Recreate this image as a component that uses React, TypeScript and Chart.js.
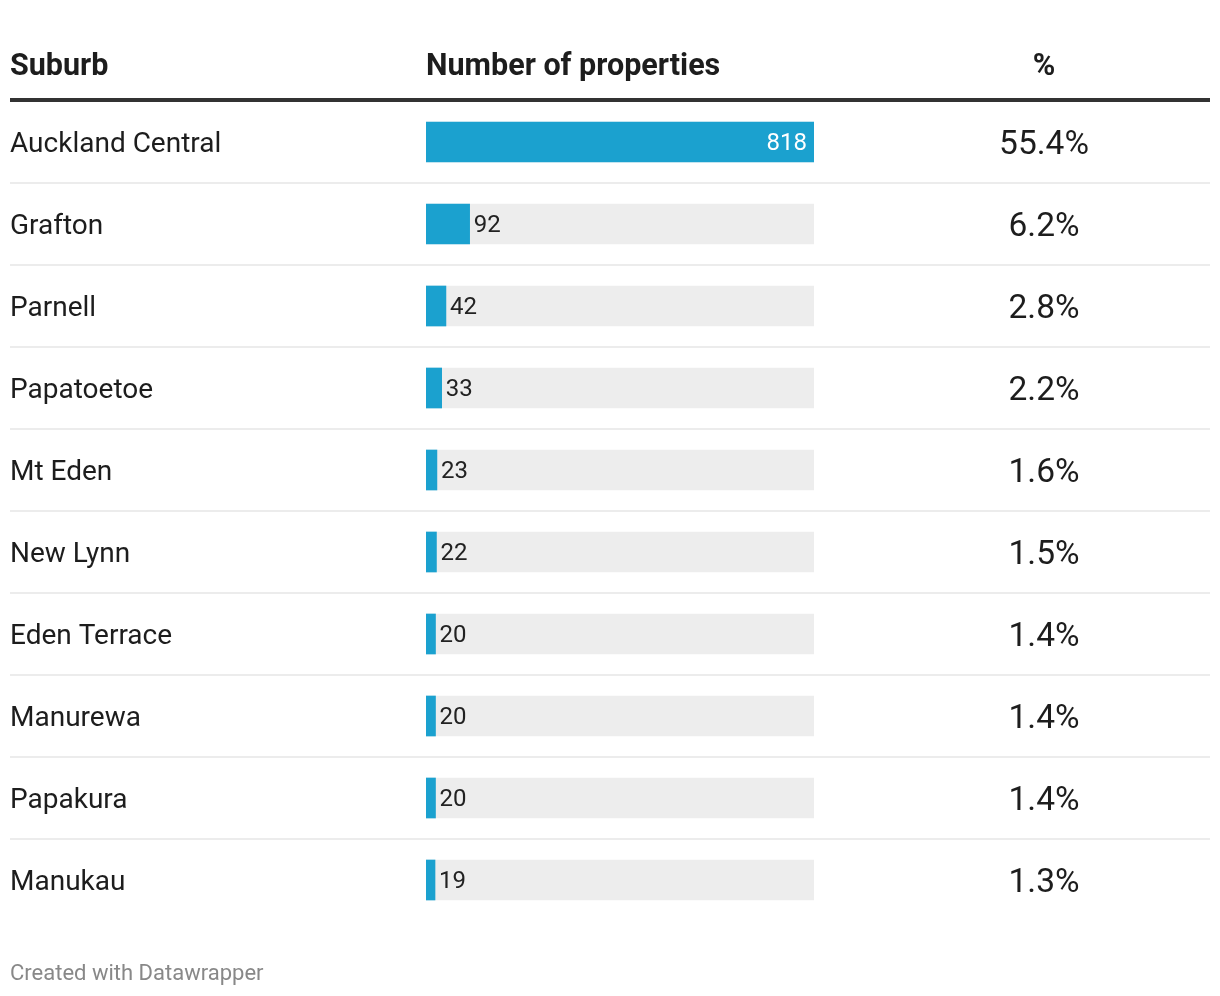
import React, { useEffect, useRef } from "react";
import { Chart, registerables } from "chart.js";

Chart.register(...registerables);

const headers = ["Suburb", "Number of properties", "%"];
const suburbs = [
  "Auckland Central",
  "Grafton",
  "Parnell",
  "Papatoetoe",
  "Mt Eden",
  "New Lynn",
  "Eden Terrace",
  "Manurewa",
  "Papakura",
  "Manukau",
];
const counts = [818, 92, 42, 33, 23, 22, 20, 20, 20, 19];
const percents = [55.4, 6.2, 2.8, 2.2, 1.6, 1.5, 1.4, 1.4, 1.4, 1.3];
const footer = "Created with Datawrapper";

const FONT = "Roboto, 'Noto Sans', sans-serif";
const BLUE = "#1ba1cf";
const TRACK = "#ededed";

const tablePlugin = {
  id: "tablePlugin",
  beforeDatasetsDraw(chart: any) {
    const ctx = chart.ctx;
    const y = chart.scales.y;
    const band = y.getPixelForValue(1) - y.getPixelForValue(0);
    ctx.save();
    // header rule
    ctx.fillStyle = "#333333";
    ctx.fillRect(2, 90, 1200, 4);
    // row separators
    ctx.fillStyle = "#ececec";
    for (let i = 0; i < suburbs.length - 1; i++) {
      const yy = y.getPixelForValue(i) + band / 2;
      ctx.fillRect(2, Math.round(yy) - 1, 1200, 2);
    }
    ctx.restore();
  },
  afterDatasetsDraw(chart: any) {
    const ctx = chart.ctx;
    const x = chart.scales.x;
    const y = chart.scales.y;
    const area = chart.chartArea;
    ctx.save();
    // headers
    ctx.fillStyle = "#1d1d1d";
    ctx.font = `bold 30.5px ${FONT}`;
    ctx.textBaseline = "alphabetic";
    ctx.textAlign = "left";
    ctx.fillText(headers[0], 2, 67);
    ctx.fillText(headers[1], area.left, 67);
    ctx.textAlign = "center";
    ctx.fillText(headers[2], 1036, 67);

    for (let i = 0; i < suburbs.length; i++) {
      const cy = y.getPixelForValue(i);
      // suburb
      ctx.fillStyle = "#1d1d1d";
      ctx.font = `28px ${FONT}`;
      ctx.textAlign = "left";
      ctx.fillText(suburbs[i], 2, cy + 10);
      // percent
      ctx.font = `33.5px ${FONT}`;
      ctx.textAlign = "center";
      ctx.fillText(percents[i].toFixed(1) + "%", 1036, cy + 12);
      // value label
      const xe = x.getPixelForValue(counts[i]);
      ctx.font = `24px ${FONT}`;
      if (xe > area.right - 60) {
        ctx.fillStyle = "#ffffff";
        ctx.textAlign = "right";
        ctx.fillText(String(counts[i]), xe - 7, cy + 8);
      } else {
        ctx.fillStyle = "#222222";
        ctx.textAlign = "left";
        ctx.fillText(String(counts[i]), xe + 4, cy + 8);
      }
    }
    // footer
    ctx.fillStyle = "#888888";
    ctx.font = `22px ${FONT}`;
    ctx.textAlign = "left";
    ctx.fillText(footer, 2, 972);
    ctx.restore();
  },
};

export default function App() {
  const ref = useRef<HTMLCanvasElement | null>(null);
  useEffect(() => {
    if (!ref.current) return;
    const maxVal = Math.max(...counts);
    const chart = new Chart(ref.current, {
      type: "bar",
      data: {
        labels: suburbs,
        datasets: [
          {
            label: headers[1],
            data: counts,
            backgroundColor: BLUE,
            barThickness: 40,
          },
          {
            label: "track",
            data: suburbs.map(() => maxVal),
            backgroundColor: TRACK,
            barThickness: 40,
          },
        ],
      },
      options: {
        indexAxis: "y",
        responsive: false,
        animation: false,
        events: [],
        layout: { padding: { left: 418, right: 398, top: 93, bottom: 67 } },
        scales: {
          x: { display: false, min: 0, max: maxVal },
          y: { display: false, stacked: true },
        },
        plugins: {
          legend: { display: false },
          tooltip: { enabled: false },
        },
      },
      plugins: [tablePlugin],
    } as any);
    return () => chart.destroy();
  }, []);
  return (
    <canvas
      ref={ref}
      width={1204}
      height={980}
      style={{ display: "block", width: 1204, height: 980 }}
    />
  );
}
